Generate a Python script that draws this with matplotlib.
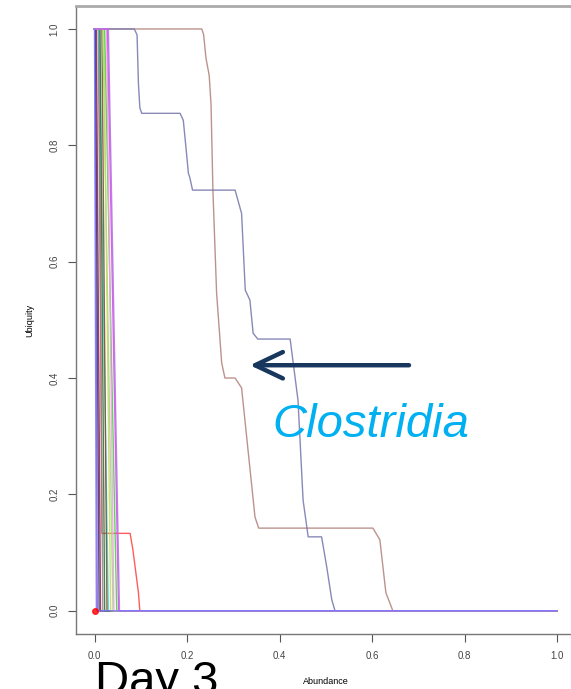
import matplotlib
matplotlib.use("Agg")
import matplotlib.pyplot as plt

plt.rcParams['font.family'] = ['Liberation Sans', 'DejaVu Sans']

# two Clostridia curves (abundance, ubiquity)
clos_blue_x = [0.0, 0.086, 0.092, 0.095, 0.098, 0.102, 0.185, 0.192, 0.199, 0.203, 0.206,
               0.212, 0.304, 0.318, 0.326, 0.336, 0.343, 0.353, 0.423, 0.440, 0.451,
               0.462, 0.491, 0.502, 0.513, 0.520, 1.0]
clos_blue_y = [1.0, 1.0, 0.99, 0.906, 0.865, 0.855, 0.855, 0.843, 0.786, 0.752, 0.745,
               0.723, 0.723, 0.683, 0.551, 0.534, 0.477, 0.467, 0.467, 0.362, 0.19,
               0.127, 0.127, 0.076, 0.019, 0.0, 0.0]

clos_brown_x = [0.0, 0.232, 0.236, 0.241, 0.248, 0.252, 0.256, 0.264, 0.275, 0.282, 0.304,
                0.318, 0.347, 0.355, 0.602, 0.617, 0.630, 0.645, 1.0]
clos_brown_y = [1.0, 1.0, 0.99, 0.95, 0.92, 0.87, 0.723, 0.546, 0.426, 0.40, 0.40,
                0.383, 0.161, 0.142, 0.142, 0.122, 0.031, 0.0, 0.0]

red_x = [0.0, 0.010, 0.016, 0.077, 0.083, 0.095, 0.098, 1.0]
red_y = [1.0, 1.0, 0.133, 0.133, 0.105, 0.031, 0.0, 0.0]

# the many low-abundance taxa: where each leaves 1 and where it reaches 0
minor_start = [0.001, 0.002, 0.004, 0.008, 0.010, 0.012, 0.016, 0.018, 0.020, 0.022,
               0.026, 0.028, 0.030, 0.0]
minor_end = [0.006, 0.010, 0.013, 0.018, 0.030, 0.022, 0.027, 0.040, 0.035, 0.048,
             0.042, 0.052, 0.054, 0.004]
minor_colors = ['#8a4fd0', '#33337a', '#8b2252', '#888888', '#33dddd', '#2e6b2e',
                '#7a4a2a', '#99dd77', '#c8d860', '#44cc44', '#f0a0e0', '#dd44ee',
                '#b070e0', '#7b7bff']

x_ticks = [0.0, 0.2, 0.4, 0.6, 0.8, 1.0]
y_ticks = [0.0, 0.2, 0.4, 0.6, 0.8, 1.0]

fig = plt.figure(figsize=(5.71, 6.89), dpi=100)
ax = fig.add_axes([76 / 571, 55 / 689, 499.5 / 571, 628.3 / 689])

ax.plot(clos_brown_x, clos_brown_y, color='#b08078', lw=1.0, alpha=0.85)
ax.plot(clos_blue_x, clos_blue_y, color='#7474ac', lw=1.0, alpha=0.85)
ax.plot(red_x, red_y, color='#ff4040', lw=1.0, alpha=0.85)
for s, e, c in zip(minor_start, minor_end, minor_colors):
    ax.plot([0.0, s, e, 1.0], [1.0, 1.0, 0.0, 0.0], color=c, lw=1.0, alpha=0.85)
ax.plot([0.0], [0.0], 'o', color='red', ms=4, alpha=0.8)

ax.set_xlim(-0.04, 1.04)
ax.set_ylim(-0.04, 1.04)
ax.set_xticks(x_ticks)
ax.set_yticks(y_ticks)
ax.set_xticklabels([f'{v:.1f}' for v in x_ticks])
ax.set_yticklabels([f'{v:.1f}' for v in y_ticks], rotation=90, va='center')
ax.tick_params(length=6, width=0.8, color='#555555', labelsize=7, labelcolor='#444444', pad=6)

for side in ['left', 'bottom']:
    ax.spines[side].set_color('#777777')
    ax.spines[side].set_linewidth(1.0)
ax.spines['top'].set_color('#aaaaaa')
ax.spines['top'].set_linewidth(2.0)
ax.spines['right'].set_visible(False)

fig.text(325.7 / 571, 1 - 682 / 689, 'Abundance', fontsize=6.5, ha='center', va='center')
fig.text(30 / 571, 1 - 320 / 689, 'Ubiquity', fontsize=6.5, ha='center', va='center', rotation=90)

ax.annotate('', xy=(0.336, 0.422), xytext=(0.68, 0.422),
            arrowprops=dict(arrowstyle='->,head_length=2.0,head_width=0.95',
                            lw=3.2, color='#17375e', shrinkA=0, shrinkB=0,
                            capstyle='round', joinstyle='round'))
fig.text(272 / 571, 1 - 437 / 689, 'Clostridia', fontsize=34, style='italic',
         color='#00b0f0', ha='left', va='baseline')
# sits on the bottom edge, partly cut off as in the slide
fig.text(95 / 571, 1 - 694 / 689, 'Day 3', fontsize=34, color='black',
         ha='left', va='baseline')

fig.savefig('out.png', dpi=100)
